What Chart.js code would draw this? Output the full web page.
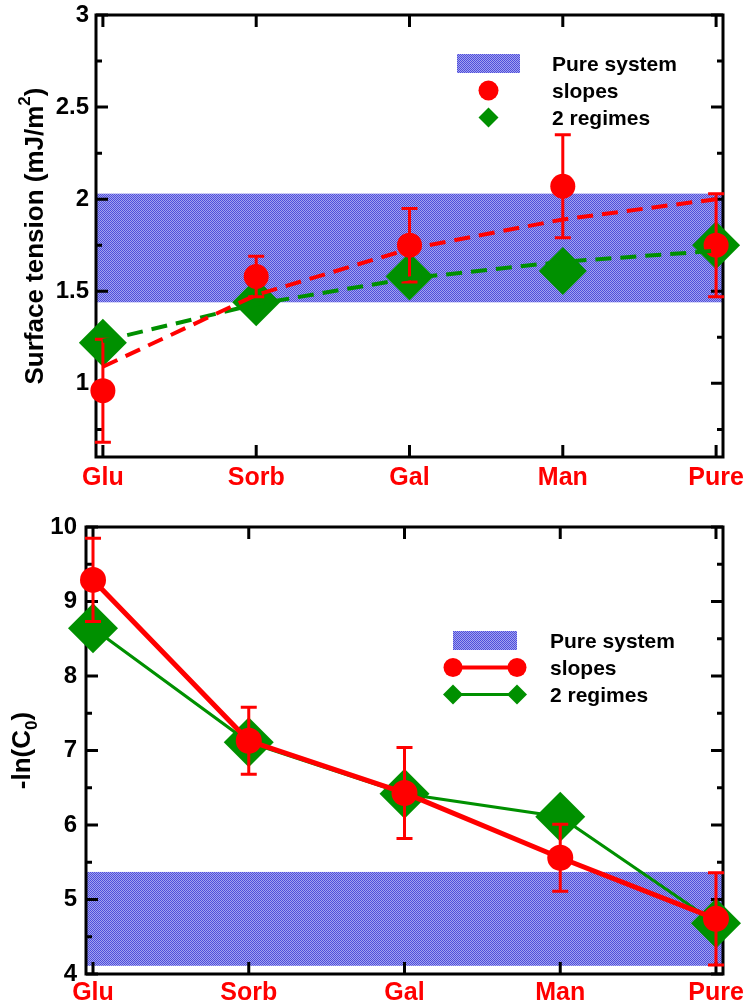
<!DOCTYPE html>
<html>
<head>
<meta charset="utf-8">
<script src="https://cdn.jsdelivr.net/npm/chart.js@4/dist/chart.umd.min.js"></script>
<style>
  html, body { margin: 0; padding: 0; background: #fff; }
  .panel { position: absolute; left: 0; }
</style>
</head>
<body>
<div class="panel" style="top:0"><canvas id="tensionChart" width="746" height="500"></canvas></div>
<div class="panel" style="top:500px"><canvas id="c0Chart" width="746" height="507"></canvas></div>
<script>
const categories = ['Glu', 'Sorb', 'Gal', 'Man', 'Pure']

// surface tension panel
const tensionSlopes = [0.96, 1.58, 1.75, 2.07, 1.75]
const tensionSlopesErr = [0.28, 0.11, 0.20, 0.28, 0.28]
const tensionRegimes = [1.22, 1.44, 1.58, 1.61, 1.75]
const tensionSlopesFit = [1.09, 1.48, 1.73, 1.89, 2.00]
const tensionRegimesFit = [1.23, 1.43, 1.57, 1.66, 1.72]
const tensionPureBand = [1.44, 2.03]
const tensionTicks = [1, 1.5, 2, 2.5, 3]

// -ln(C0) panel
const c0Slopes = [9.29, 7.13, 6.43, 5.56, 4.74]
const c0SlopesErr = [0.56, 0.45, 0.61, 0.45, 0.62]
const c0Regimes = [8.64, 7.11, 6.42, 6.11, 4.68]
const c0PureBand = [4.11, 5.37]
const c0Ticks = [4, 5, 6, 7, 8, 9, 10]

const RED = '#ff0000'
const GREEN = '#009000'
const FONT = '"Liberation Sans", Arial, Helvetica, sans-serif'

Chart.defaults.font.family = FONT
Chart.defaults.font.weight = 'bold'

const toPoints = (values) => values.map((v, i) => ({ x: i, y: v }))

const bandPattern = (ctx) => {
    const c = document.createElement('canvas')
    c.width = 2
    c.height = 2
    const p = c.getContext('2d')
    p.fillStyle = '#a2a2ef'
    p.fillRect(0, 0, 2, 2)
    p.fillStyle = '#4e4edb'
    p.fillRect(0, 0, 1, 1)
    p.fillRect(1, 1, 1, 1)
    return ctx.createPattern(c, 'repeat')
}

// shaded band, box frame and inward ticks on all four sides
const framePlugin = {
    id: 'frame',
    beforeDatasetsDraw(chart, args, opts) {
        const { ctx, chartArea: a, scales: { x, y } } = chart
        ctx.save()
        const yTop = y.getPixelForValue(opts.band[1])
        const yBot = y.getPixelForValue(opts.band[0])
        ctx.fillStyle = bandPattern(ctx)
        ctx.fillRect(a.left, yTop, a.right - a.left, yBot - yTop)

        ctx.strokeStyle = '#000'
        ctx.lineWidth = 3
        ctx.strokeRect(a.left, a.top, a.right - a.left, a.bottom - a.top)

        ctx.beginPath()
        x.ticks.forEach(t => {
            const px = x.getPixelForValue(t.value)
            ctx.moveTo(px, a.bottom); ctx.lineTo(px, a.bottom - 12)
            ctx.moveTo(px, a.top); ctx.lineTo(px, a.top + 12)
        })
        const majors = y.ticks.map(t => t.value)
        for (let v = Math.ceil(y.min / opts.minorStep) * opts.minorStep; v <= y.max + 1e-9; v += opts.minorStep) {
            const major = majors.some(m => Math.abs(m - v) < 1e-6)
            const len = major ? 12 : 6
            const py = y.getPixelForValue(v)
            ctx.moveTo(a.left, py); ctx.lineTo(a.left + len, py)
            ctx.moveTo(a.right, py); ctx.lineTo(a.right - len, py)
        }
        ctx.stroke()
        ctx.restore()
    }
}

// vertical error bars with caps
const errorBarPlugin = {
    id: 'errorBars',
    afterDatasetDraw(chart, args) {
        const ds = chart.data.datasets[args.index]
        if (!ds.errors) return
        const { ctx, scales: { y } } = chart
        ctx.save()
        ctx.strokeStyle = ds.backgroundColor
        ctx.lineWidth = 3
        ctx.beginPath()
        args.meta.data.forEach((pt, i) => {
            const v = ds.data[i].y
            const hi = y.getPixelForValue(v + ds.errors[i])
            const lo = y.getPixelForValue(v - ds.errors[i])
            ctx.moveTo(pt.x, hi); ctx.lineTo(pt.x, lo)
            ctx.moveTo(pt.x - 8, hi); ctx.lineTo(pt.x + 8, hi)
            ctx.moveTo(pt.x - 8, lo); ctx.lineTo(pt.x + 8, lo)
        })
        ctx.stroke()
        ctx.restore()
    }
}

// rotated y title with super/subscript pieces
const yTitlePlugin = {
    id: 'yTitle',
    afterDraw(chart, args, opts) {
        const { ctx, chartArea: a } = chart
        const size = opts.size
        ctx.save()
        ctx.translate(opts.x, (a.top + a.bottom) / 2)
        ctx.rotate(-Math.PI / 2)
        ctx.fillStyle = '#000'
        ctx.textBaseline = 'alphabetic'
        const fontFor = p => `bold ${p.sup || p.sub ? Math.round(size * 0.65) : size}px ${FONT}`
        let total = 0
        opts.parts.forEach(p => { ctx.font = fontFor(p); total += ctx.measureText(p.text).width })
        let cx = -total / 2
        opts.parts.forEach(p => {
            ctx.font = fontFor(p)
            const dy = p.sup ? -size * 0.5 : p.sub ? size * 0.25 : 0
            ctx.fillText(p.text, cx, dy)
            cx += ctx.measureText(p.text).width
        })
        ctx.restore()
    }
}

const drawMarker = (ctx, style, x, y, r, color) => {
    ctx.fillStyle = color
    ctx.beginPath()
    if (style === 'circle') {
        ctx.arc(x, y, r, 0, Math.PI * 2)
    } else {
        ctx.moveTo(x, y - r); ctx.lineTo(x + r, y); ctx.lineTo(x, y + r); ctx.lineTo(x - r, y)
        ctx.closePath()
    }
    ctx.fill()
}

const legendPlugin = {
    id: 'customLegend',
    afterDraw(chart, args, o) {
        const ctx = chart.ctx
        ctx.save()
        ctx.fillStyle = bandPattern(ctx)
        ctx.fillRect(o.x, o.y, o.w, o.h)
        const rows = [o.y + o.h / 2, o.y + o.h / 2 + o.gap, o.y + o.h / 2 + 2 * o.gap]
        if (o.lines) {
            ctx.lineWidth = 4
            ctx.strokeStyle = RED
            ctx.beginPath(); ctx.moveTo(o.x, rows[1]); ctx.lineTo(o.x + o.w, rows[1]); ctx.stroke()
            drawMarker(ctx, 'circle', o.x, rows[1], 9.5, RED)
            drawMarker(ctx, 'circle', o.x + o.w, rows[1], 9.5, RED)
            ctx.lineWidth = 3
            ctx.strokeStyle = GREEN
            ctx.beginPath(); ctx.moveTo(o.x, rows[2]); ctx.lineTo(o.x + o.w, rows[2]); ctx.stroke()
            drawMarker(ctx, 'diamond', o.x, rows[2], 10, GREEN)
            drawMarker(ctx, 'diamond', o.x + o.w, rows[2], 10, GREEN)
        } else {
            drawMarker(ctx, 'circle', o.x + o.w / 2, rows[1], 10, RED)
            drawMarker(ctx, 'diamond', o.x + o.w / 2, rows[2], 10, GREEN)
        }
        ctx.fillStyle = '#000'
        ctx.font = `bold 21px ${FONT}`
        ctx.textBaseline = 'alphabetic'
        const labels = ['Pure system', 'slopes', '2 regimes']
        labels.forEach((l, i) => ctx.fillText(l, o.textX, rows[i] + 7))
        ctx.restore()
    }
}

const makeScales = (yMin, yMax, yTicks, yWidth, xHeight, yPad, xPad) => ({
    x: {
        type: 'linear',
        min: -0.045,
        max: 4.045,
        afterBuildTicks: s => { s.ticks = categories.map((c, i) => ({ value: i })) },
        afterFit: s => { s.height = xHeight; s.paddingLeft = 0; s.paddingRight = 0 },
        grid: { display: false, drawTicks: false },
        border: { display: false },
        ticks: {
            color: RED,
            padding: xPad,
            font: { size: 25, weight: 'bold' },
            callback: v => categories[v]
        }
    },
    y: {
        min: yMin,
        max: yMax,
        afterBuildTicks: s => { s.ticks = yTicks.map(v => ({ value: v })) },
        afterFit: s => { s.width = yWidth; s.paddingTop = 0; s.paddingBottom = 0 },
        grid: { display: false, drawTicks: false },
        border: { display: false },
        ticks: {
            color: '#000',
            padding: yPad,
            font: { size: 24, weight: 'bold' },
            callback: v => String(v)
        }
    }
})

new Chart(document.getElementById('tensionChart'), {
    type: 'line',
    data: {
        datasets: [
            { label: 'slopes fit', data: toPoints(tensionSlopesFit), borderColor: RED, borderWidth: 4, borderDash: [16, 9], pointRadius: 0, order: 0, clip: false },
            { label: '2 regimes fit', data: toPoints(tensionRegimesFit), borderColor: GREEN, borderWidth: 4, borderDash: [16, 9], pointRadius: 0, order: 1, clip: false },
            { label: 'slopes', data: toPoints(tensionSlopes), errors: tensionSlopesErr, showLine: false, pointStyle: 'circle', pointRadius: 12.5, pointBorderWidth: 0, backgroundColor: RED, borderColor: RED, order: 2, clip: false },
            { label: '2 regimes', data: toPoints(tensionRegimes), showLine: false, pointStyle: 'rectRot', pointRadius: 24, pointBorderWidth: 0, backgroundColor: GREEN, borderColor: GREEN, order: 3, clip: false }
        ]
    },
    options: {
        responsive: false,
        animation: false,
        events: [],
        layout: { autoPadding: false, padding: { left: 0, right: 23, top: 15, bottom: 0 } },
        scales: makeScales(0.6, 3, tensionTicks, 96, 43, 7, 6),
        plugins: {
            legend: { display: false },
            tooltip: { enabled: false },
            frame: { band: tensionPureBand, minorStep: 0.25 },
            yTitle: { x: 43, size: 26, parts: [{ text: 'Surface tension (mJ/m' }, { text: '2', sup: true }, { text: ')' }] },
            customLegend: { x: 457, y: 54, w: 63, h: 19, gap: 27, textX: 552, lines: false }
        }
    },
    plugins: [framePlugin, errorBarPlugin, yTitlePlugin, legendPlugin]
})

new Chart(document.getElementById('c0Chart'), {
    type: 'line',
    data: {
        datasets: [
            { label: 'slopes', data: toPoints(c0Slopes), errors: c0SlopesErr, borderColor: RED, borderWidth: 5, pointStyle: 'circle', pointRadius: 13, pointBorderWidth: 0, backgroundColor: RED, order: 0, clip: false },
            { label: '2 regimes', data: toPoints(c0Regimes), borderColor: GREEN, borderWidth: 3, pointStyle: 'rectRot', pointRadius: 25, pointBorderWidth: 0, backgroundColor: GREEN, order: 1, clip: false }
        ]
    },
    options: {
        responsive: false,
        animation: false,
        events: [],
        layout: { autoPadding: false, padding: { left: 0, right: 23, top: 27, bottom: 0 } },
        scales: makeScales(4, 10, c0Ticks, 86, 33, 9, 4),
        plugins: {
            legend: { display: false },
            tooltip: { enabled: false },
            frame: { band: c0PureBand, minorStep: 0.5 },
            yTitle: { x: 30, size: 26, parts: [{ text: '-ln(C' }, { text: '0', sub: true }, { text: ')' }] },
            customLegend: { x: 453, y: 131, w: 64, h: 19, gap: 27, textX: 550, lines: true }
        }
    },
    plugins: [framePlugin, errorBarPlugin, yTitlePlugin, legendPlugin]
})
</script>
</body>
</html>
